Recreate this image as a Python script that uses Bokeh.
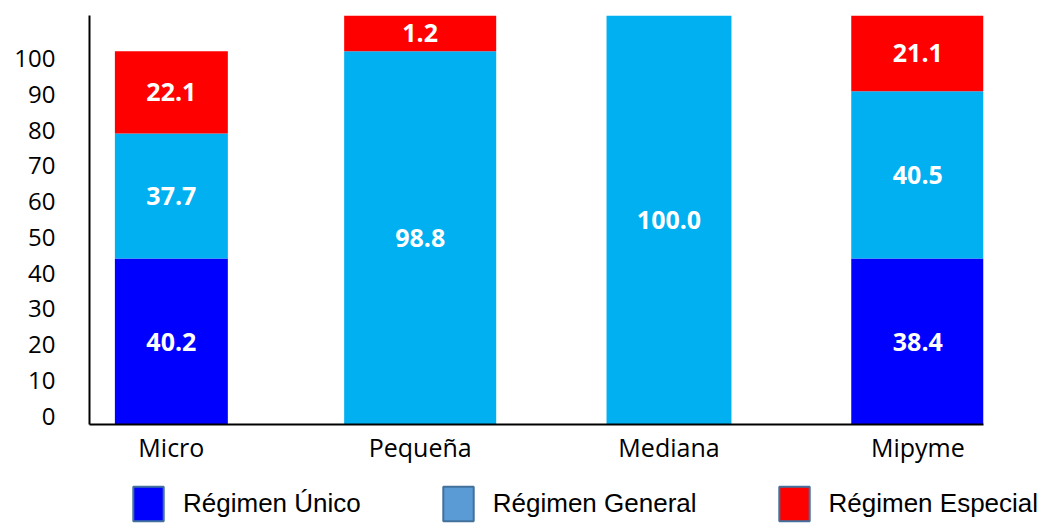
import numpy as np
from bokeh.plotting import figure
from bokeh.models import (ColumnDataSource, Range1d, LinearAxis, FixedTicker,
                          Legend, LegendItem)
from bokeh.core.properties import value
from bokeh.embed import file_html
from bokeh.resources import INLINE

# ---------------- data ----------------
categories = ["Micro", "Pequeña", "Mediana", "Mipyme"]
series_names = ["Régimen Único", "Régimen General", "Régimen Especial"]

# values printed on the bars
label_unico = [40.2, None, None, 38.4]
label_general = [37.7, 98.8, 100.0, 40.5]
label_especial = [22.1, 1.2, None, 21.1]

# segment heights as drawn against the y axis
height_unico = [46.4, 0.0, 0.0, 46.4]
height_general = [35.0, 104.4, 118.0, 46.8]
height_especial = [23.0, 12.0, 0.0, 25.0]

y_ticks = [0, 10, 20, 30, 40, 50, 60, 70, 80, 90, 100]

# ---------------- style ----------------
bar_widths = [0.454, 0.611, 0.502, 0.535]
bar_colors = ["#0000ff", "#00b0f0", "#ff0000"]
legend_colors = ["#0000ff", "#5b9bd5", "#ff0000"]
legend_border = "#41719c"
Y_END = 114.4
LABEL_SHIFT = 2.32

p = figure(width=1044, height=484,
           x_range=Range1d(-0.329, 3.264), y_range=Range1d(0, Y_END),
           output_backend="svg", toolbar_location=None,
           y_axis_location=None,
           min_border_left=89, min_border_right=61,
           min_border_top=15, min_border_bottom=60)
p.outline_line_color = None
p.xgrid.visible = False
p.ygrid.visible = False
p.background_fill_color = "white"
p.border_fill_color = "white"

# y axis (labels sit slightly above their ticks, as in the original)
p.extra_y_ranges = {"ticks": Range1d(-LABEL_SHIFT, Y_END - LABEL_SHIFT)}
yaxis = LinearAxis(y_range_name="ticks", ticker=FixedTicker(ticks=y_ticks))
yaxis.axis_line_color = "black"
yaxis.axis_line_width = 2
yaxis.major_tick_in = 0
yaxis.major_tick_out = 0
yaxis.minor_tick_in = 0
yaxis.minor_tick_out = 0
yaxis.major_label_standoff = 34
yaxis.major_label_text_font = "Open Sans"
yaxis.major_label_text_font_size = "24px"
yaxis.major_label_text_color = "black"
p.add_layout(yaxis, "left")

# x axis
xaxis = p.xaxis[0]
xaxis.ticker = FixedTicker(ticks=list(range(len(categories))))
xaxis.major_label_overrides = {i: c for i, c in enumerate(categories)}
xaxis.axis_line_color = "black"
xaxis.axis_line_width = 2
xaxis.major_tick_in = 0
xaxis.major_tick_out = 0
xaxis.minor_tick_in = 0
xaxis.minor_tick_out = 0
xaxis.major_label_standoff = 5
xaxis.major_label_text_font = "Open Sans"
xaxis.major_label_text_font_size = "25px"
xaxis.major_label_text_color = "black"

# stacked bars
x = np.arange(len(categories))
heights = [np.array(height_unico), np.array(height_general), np.array(height_especial)]
labels = [label_unico, label_general, label_especial]
bottom = np.zeros(len(categories))
for h, lab, col in zip(heights, labels, bar_colors):
    top = bottom + h
    keep = [i for i in range(len(categories)) if h[i] > 0]
    src = ColumnDataSource(dict(x=[x[i] for i in keep],
                                bottom=[bottom[i] for i in keep],
                                top=[top[i] for i in keep],
                                w=[bar_widths[i] for i in keep]))
    p.vbar(x="x", width="w", bottom="bottom", top="top", source=src,
           fill_color=col, line_color=None)
    idx = [i for i, v in enumerate(lab) if v is not None]
    lsrc = ColumnDataSource(dict(
        x=[x[i] for i in idx],
        y=[(bottom[i] + min(top[i], Y_END)) / 2 for i in idx],
        t=[f"{lab[i]:.1f}" for i in idx]))
    p.text(x="x", y="y", text="t", source=lsrc, text_align="center",
           text_baseline="middle", text_color="white",
           text_font=value("Open Sans"), text_font_style="bold",
           text_font_size="25px")
    bottom = top

# legend strip (its swatches use their own colours)
leg = figure(width=1044, height=39, x_range=Range1d(0, 1), y_range=Range1d(0, 1),
             output_backend="svg", toolbar_location=None,
             x_axis_location=None, y_axis_location=None, min_border=0)
leg.outline_line_color = None
leg.xgrid.visible = False
leg.ygrid.visible = False
items = []
for name, col in zip(series_names, legend_colors):
    r = leg.quad(left=[np.nan], right=[np.nan], top=[np.nan], bottom=[np.nan],
                 fill_color=col, line_color=legend_border, line_width=2)
    items.append(LegendItem(label=name, renderers=[r]))
legend = Legend(items=items, orientation="horizontal", location=(129, -1.7),
                glyph_width=38, glyph_height=43, label_height=43,
                label_standoff=16, spacing=78, padding=0, margin=0,
                border_line_color=None, background_fill_alpha=0,
                label_text_font="Liberation Sans",
                label_text_font_size="26px", label_text_color="black")
leg.add_layout(legend, "center")

open("out.html", "w").write(file_html([p, leg], INLINE))
